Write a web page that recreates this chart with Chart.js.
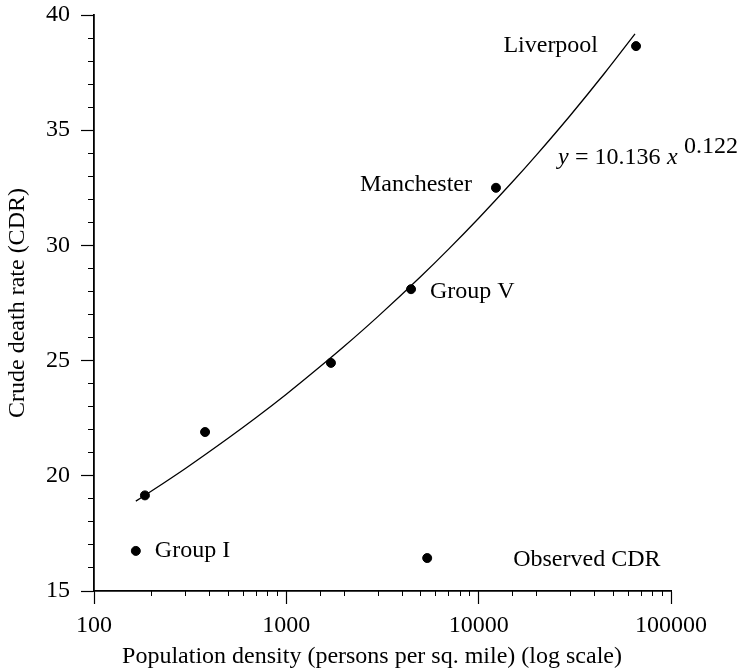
<!DOCTYPE html>
<html>
<head>
<meta charset="utf-8">
<script src="https://cdn.jsdelivr.net/npm/chart.js@4"></script>
<style>
    body { margin: 0; background: #fff; }
    #wrap { width: 739px; height: 672px; }
</style>
</head>
<body>
<div id="wrap"><canvas id="cdrChart" width="739" height="672"></canvas></div>
<script>
// Observed CDR per district group
const density = [184, 378, 1706, 4450, 12300, 65800]
const cdr = [19.15, 21.9, 24.9, 28.1, 32.5, 38.65]
const pointNames = ['', '', '', 'Group V', 'Manchester', 'Liverpool']

// Fitted curve y = 10.136 x^0.122
const fitX = [165, 200, 300, 500, 700, 1000, 1500, 2000, 3000, 5000, 7000, 10000, 15000, 20000, 30000, 45000, 65000]
const fitY = [18.90, 19.35, 20.33, 21.64, 22.54, 23.54, 24.74, 25.62, 26.92, 28.65, 29.85, 31.18, 32.76, 33.93, 35.65, 37.46, 39.18]

// key markers in the lower part of the plot
const keyX = [165, 5400]
const keyY = [16.74, 16.43]
const keyNames = ['Group I', 'Observed CDR']

const xMajorTicks = [100, 1000, 10000, 100000]

const serif = "'Liberation Serif', 'Times New Roman', serif"
Chart.defaults.font.family = serif
Chart.defaults.font.size = 24
Chart.defaults.color = '#000'

const noPad = s => { s.paddingTop = 0; s.paddingBottom = 0 }

const textPlugin = {
    id: 'texts',
    afterDatasetsDraw(chart) {
        const ctx = chart.ctx
        const xs = chart.scales.x
        const ys = chart.scales.y
        ctx.save()
        ctx.fillStyle = '#000'
        ctx.font = '24px ' + serif
        ctx.textBaseline = 'middle'

        // names beside observed points
        const offs = [null, null, null, [19, 3, 'left'], [-24, -3, 'right'], [-38, 0, 'right']]
        pointNames.forEach((name, i) => {
            if(!name) return
            const o = offs[i]
            ctx.textAlign = o[2]
            ctx.fillText(name, xs.getPixelForValue(density[i]) + o[0], ys.getPixelForValue(cdr[i]) + o[1])
        })
        const keyOffs = [[19, 0], [86, 2]]
        keyNames.forEach((name, i) => {
            ctx.textAlign = 'left'
            ctx.fillText(name, xs.getPixelForValue(keyX[i]) + keyOffs[i][0], ys.getPixelForValue(keyY[i]) + keyOffs[i][1])
        })

        // equation of the fitted curve
        ctx.textBaseline = 'alphabetic'
        ctx.textAlign = 'left'
        let ex = 558, ey = 164
        ctx.font = 'italic 24px ' + serif
        ctx.fillText('y', ex, ey)
        ctx.font = '24px ' + serif
        ctx.fillText('= 10.136', ex + 17, ey)
        ctx.font = 'italic 24px ' + serif
        ctx.fillText('x', ex + 109, ey)
        ctx.font = '24px ' + serif
        ctx.fillText('0.122', ex + 126, ey - 11)

        // axis titles
        ctx.textBaseline = 'middle'
        ctx.textAlign = 'center'
        ctx.fillText('Population density (persons per sq. mile) (log scale)', 372, 657)
        ctx.translate(18, (chart.chartArea.top + chart.chartArea.bottom) / 2)
        ctx.rotate(-Math.PI / 2)
        ctx.fillText('Crude death rate (CDR)', 0, 0)
        ctx.restore()
    }
}

const ctx = document.querySelector('#cdrChart').getContext('2d')
new Chart(ctx, {
    type: 'scatter',
    data: {
        datasets: [
            {
                label: 'Fit',
                data: fitX.map((x, i) => ({x: x, y: fitY[i]})),
                showLine: true,
                borderColor: '#000',
                borderWidth: 1.3,
                pointRadius: 0,
                cubicInterpolationMode: 'monotone'
            },
            {
                label: 'Observed CDR',
                data: density.map((x, i) => ({x: x, y: cdr[i]})),
                backgroundColor: '#000',
                borderColor: '#000',
                pointRadius: 4.5
            },
            {
                label: 'Key',
                data: keyX.map((x, i) => ({x: x, y: keyY[i]})),
                backgroundColor: '#000',
                borderColor: '#000',
                pointRadius: 4.5
            }
        ]
    },
    options: {
        responsive: false,
        animation: false,
        layout: { padding: { left: 0, top: 15, right: 68, bottom: 0 } },
        plugins: { legend: { display: false }, tooltip: { enabled: false } },
        scales: {
            x: {
                type: 'logarithmic',
                min: 100,
                max: 100000,
                weight: 1,
                afterBuildTicks: s => { s.ticks = xMajorTicks.map(v => ({value: v})) },
                afterFit: s => { s.height = 81; s.paddingLeft = 0; s.paddingRight = 0 },
                grid: { drawOnChartArea: false, tickLength: 13, tickColor: '#000', tickWidth: 1.2 },
                border: { display: true, color: '#000', width: 1.8 },
                ticks: { autoSkip: false, maxRotation: 0, padding: 7, callback: v => String(v) }
            },
            xMinor: {
                type: 'logarithmic',
                position: 'bottom',
                min: 100,
                max: 100000,
                weight: 0,
                afterFit: s => { s.height = 0; s.paddingLeft = 0; s.paddingRight = 0 },
                grid: { drawOnChartArea: false, tickLength: 5, tickColor: '#000', tickWidth: 1 },
                border: { display: false },
                ticks: { display: false, autoSkip: false }
            },
            y: {
                min: 15,
                max: 40,
                weight: 1,
                afterFit: s => { s.width = 94; noPad(s) },
                grid: { drawOnChartArea: false, tickLength: 13, tickColor: '#000', tickWidth: 1.2 },
                border: { display: true, color: '#000', width: 1.8 },
                ticks: { stepSize: 5, autoSkip: false, padding: 11 }
            },
            yMinor: {
                position: 'left',
                min: 15,
                max: 40,
                weight: 0,
                afterFit: s => { s.width = 0; noPad(s) },
                grid: { drawOnChartArea: false, tickLength: 6, tickColor: '#000', tickWidth: 1 },
                border: { display: false },
                ticks: { display: false, stepSize: 1, autoSkip: false }
            }
        }
    },
    plugins: [textPlugin]
})
</script>
</body>
</html>
